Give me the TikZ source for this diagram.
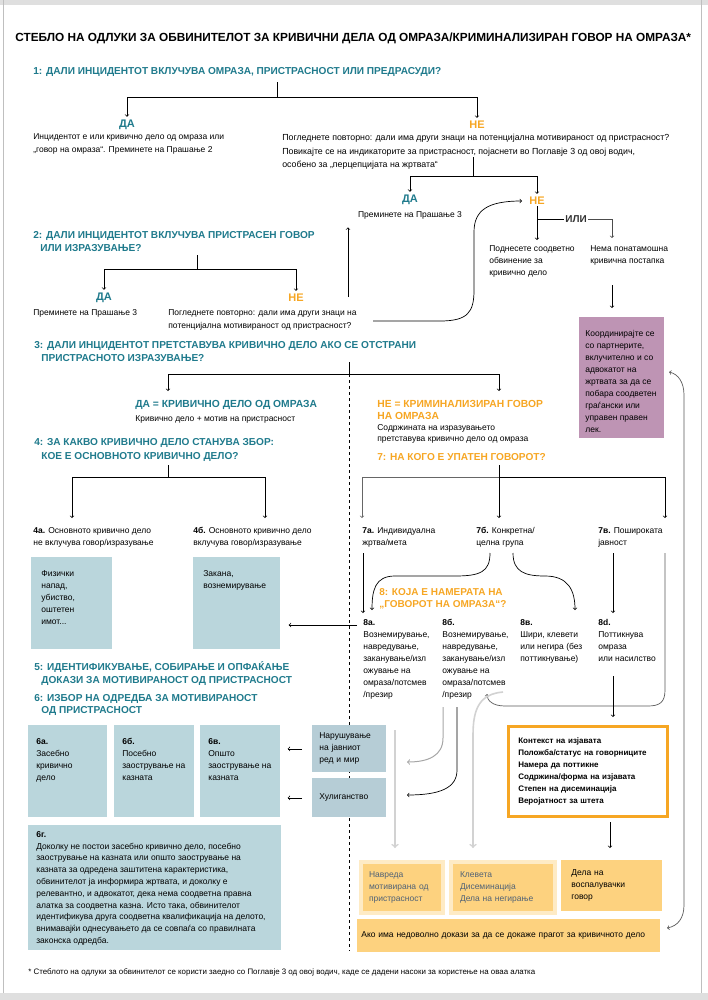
\documentclass[tikz,border=0pt]{standalone}
\usepackage{fontspec}
\setmainfont{Liberation Sans}
\definecolor{odteal}{RGB}{31,122,140}
\definecolor{odorange}{RGB}{246,166,35}
\definecolor{odpurple}{RGB}{190,148,180}
\definecolor{odblue}{RGB}{186,214,220}
\definecolor{odslate}{RGB}{182,205,214}
\definecolor{odpeach}{RGB}{253,210,127}
\definecolor{odgreytext}{RGB}{80,98,118}
\tikzstyle{title}=[anchor=west, inner sep=0pt, font=\bfseries\fontsize{11.8}{14}\selectfont]
\tikzstyle{question}=[anchor=north west, inner sep=0pt, align=left, text=odteal, font=\bfseries\fontsize{10.1}{13}\selectfont]
\tikzstyle{question-no}=[question, text=odorange]
\tikzstyle{answer-yes}=[inner sep=1pt, text=odteal, font=\bfseries\fontsize{11}{13}\selectfont]
\tikzstyle{answer-no}=[answer-yes, text=odorange]
\tikzstyle{txt}=[anchor=north west, inner sep=0pt, align=left, font=\fontsize{8.5}{12}\selectfont]
\tikzstyle{box}=[anchor=north west, inner sep=0pt]
\tikzstyle{box-blue}=[box, fill=odblue]
\tikzstyle{box-purple}=[box, fill=odpurple]
\tikzstyle{box-slate}=[anchor=north west, fill=odslate, inner xsep=7pt, inner ysep=0pt, align=left, font=\fontsize{8.5}{12}\selectfont]
\tikzstyle{box-peach}=[anchor=north west, fill=odpeach, inner ysep=0pt, align=left, font=\fontsize{8.5}{12}\selectfont]
\tikzstyle{box-glow}=[box-peach, draw=odpeach!45, line width=4pt, text=odgreytext]
\tikzstyle{box-frame}=[anchor=north west, draw=odorange, line width=2.5pt, fill=white, inner xsep=10pt, inner ysep=0pt, align=left, font=\bfseries\fontsize{8}{12}\selectfont]
\tikzstyle{link}=[->, shorten >=2pt]
\tikzstyle{link-faded}=[->, draw=gray!35, line width=1.6pt]

\begin{document}
\begin{tikzpicture}[x=1pt, y=-1pt, line width=0.7pt]
	\useasboundingbox (0,0) rectangle (708,1000);
	% frame
	\fill[gray!25] (0,0) rectangle (708,5);
	\fill[gray!25] (0,993) rectangle (708,1000);
	\draw[gray!50] (3,0) -- (3,993);
	\draw[gray!50] (701,0) -- (701,993);

	% nodes
	 \node [title] (title) at (15,38) {СТЕБЛО НА ОДЛУКИ ЗА ОБВИНИТЕЛОТ ЗА КРИВИЧНИ ДЕЛА ОД ОМРАЗА/КРИМИНАЛИЗИРАН ГОВОР НА ОМРАЗА*};

	 \node [question] (q1) at (33,67) {1: ДАЛИ ИНЦИДЕНТОТ ВКЛУЧУВА ОМРАЗА, ПРИСТРАСНОСТ ИЛИ ПРЕДРАСУДИ?};
	 \coordinate (q1split) at (277,97);
	 \node [answer-yes] (yes1) at (127,125) {ДА};
	 \node [answer-no] (no1) at (477,125) {НЕ};
	 \node [txt, font=\fontsize{8.5}{13}\selectfont] (yes1txt) at (33,133) {Инцидентот е или кривично дело од омраза или\\„говор на омраза“. Преминете на Прашање 2};
	 \node [txt, font=\fontsize{8.8}{13.5}\selectfont] (no1txt) at (282,134) {Погледнете повторно: дали има други знаци на потенцијална мотивираност од пристрасност?\\Повикајте се на индикаторите за пристрасност, појаснети во Поглавје 3 од овој водич,\\особено за „перцепцијата на жртвата“};

	 \coordinate (no1split) at (473,176);
	 \node [answer-yes] (yes2) at (410,200) {ДА};
	 \node [txt, anchor=north] (yes2txt) at (410,211) {Преминете на Прашање 3};
	 \node [answer-no] (no2) at (537,201) {НЕ};
	 \node [inner sep=1pt, text=black!80, font=\bfseries\fontsize{10}{12}\selectfont] (ili) at (576,219) {ИЛИ};
	 \node [txt] (filetxt) at (489,245) {Поднесете соодветно\\обвинение за\\кривично дело};
	 \node [txt] (nonetxt) at (590,245) {Нема понатамошна\\кривична постапка};
	 \coordinate (none-in) at (612,240);
	 \coordinate (none-out) at (612,285);
	 \node [box-purple, minimum width=85, minimum height=121] (coord) at (579,317) {};
	 \node [txt] (coordtxt) at ([shift={(6,13)}]coord.north west) {Координирајте се\\со партнерите,\\вклучително и со\\адвокатот на\\жртвата за да се\\побара соодветен\\граѓански или\\управен правен\\лек.};

	 \node [question] (q2) at (33,231) {2: ДАЛИ ИНЦИДЕНТОТ ВКЛУЧУВА ПРИСТРАСЕН ГОВОР\\\hspace*{7pt}ИЛИ ИЗРАЗУВАЊЕ?};
	 \coordinate (q2split) at (197,269);
	 \node [answer-yes] (yes3) at (104,298) {ДА};
	 \node [answer-no] (no3) at (296,298) {НЕ};
	 \node [txt] (yes3txt) at (33,309) {Преминете на Прашање 3};
	 \node [txt, font=\fontsize{8.5}{13}\selectfont] (no3txt) at (168,309) {Погледнете повторно: дали има други знаци на\\потенцијална мотивираност од пристрасност?};
	 \coordinate (up-start) at (348,297);
	 \coordinate (loop-start) at (373,321);

	 \node [question] (q3) at (34,341) {3: ДАЛИ ИНЦИДЕНТОТ ПРЕТСТАВУВА КРИВИЧНО ДЕЛО АКО СЕ ОТСТРАНИ\\\hspace*{7pt}ПРИСТРАСНОТО ИЗРАЗУВАЊЕ?};
	 \coordinate (q3split) at (349,374);
	 \coordinate (q3yes) at (168,393);
	 \coordinate (q3no) at (499,393);
	 \coordinate (dash-end) at (349,951);
	 % divider goes under the boxes
	 \draw [dashed, line width=0.6pt] (q3split) -- (dash-end);
	 \node [question, font=\bfseries\fontsize{10.3}{11.5}\selectfont] (yes4) at (135,400) {ДА = КРИВИЧНО ДЕЛО ОД ОМРАЗА};
	 \node [txt] (yes4txt) at (135,415) {Кривично дело + мотив на пристрасност};
	 \node [question-no, font=\bfseries\fontsize{10.3}{11.5}\selectfont] (no4) at (377,400) {НЕ = КРИМИНАЛИЗИРАН ГОВОР\\НА ОМРАЗА};
	 \node [txt, font=\fontsize{8.5}{11}\selectfont] (no4txt) at (377,424) {Содржината на изразувањето\\претставува кривично дело од омраза};

	 \node [question, font=\bfseries\fontsize{10.1}{14}\selectfont] (q4) at (34,438) {4: ЗА КАКВО КРИВИЧНО ДЕЛО СТАНУВА ЗБОР:\\\hspace*{7pt}КОЕ Е ОСНОВНОТО КРИВИЧНО ДЕЛО?};
	 \node [question-no] (q7) at (377,453) {7: НА КОГО Е УПАТЕН ГОВОРОТ?};
	 \coordinate (q4split) at (168,477);
	 \coordinate (q7split) at (499,477);
	 \coordinate (a4a) at (72,520);
	 \coordinate (a4b) at (265,520);
	 \coordinate (a7a) at (362,520);
	 \coordinate (a7b) at (499,520);
	 \coordinate (a7c) at (665,520);

	 \node [txt] (t4a) at (33,527) {\textbf{4а.} Основното кривично дело\\не вклучува говор/изразување};
	 \node [txt] (t4b) at (193,527) {\textbf{4б.} Основното кривично дело\\вклучува говор/изразување};
	 \node [txt] (t7a) at (362,527) {\textbf{7а.} Индивидуална\\жртва/мета};
	 \node [txt] (t7b) at (476,527) {\textbf{7б.} Конкретна/\\целна група};
	 \node [txt] (t7c) at (598,527) {\textbf{7в.} Пошироката\\јавност};

	 \node [box-blue, minimum width=81, minimum height=92] (b4a) at (31,557) {};
	 \node [txt] (b4atxt) at ([shift={(10,13)}]b4a.north west) {Физички\\напад,\\убиство,\\оштетен\\имот...};
	 \node [box-blue, minimum width=87, minimum height=92] (b4b) at (193,557) {};
	 \node [txt] (b4btxt) at ([shift={(10,13)}]b4b.north west) {Закана,\\вознемирување};

	 \coordinate (7a-out) at (363,553);
	 \coordinate (7b-left) at (490,553);
	 \coordinate (7b-right) at (513,553);
	 \coordinate (7c-out) at (613,553);
	 \coordinate (7c-side) at (665,553);
	 \node [question-no, font=\bfseries\fontsize{10}{12}\selectfont] (q8) at (379,588) {8: КОЈА Е НАМЕРАТА НА\\„ГОВОРОТ НА ОМРАЗА“?};
	 \node [txt] (t8a) at (363,619) {\textbf{8а.}\\Вознемирување,\\навредување,\\заканување/изл\\ожување на\\омраза/потсмев\\/презир};
	 \node [txt] (t8b) at (442,619) {\textbf{8б.}\\Вознемирување,\\навредување,\\заканување/изл\\ожување на\\омраза/потсмев\\/презир};
	 \node [txt] (t8c) at (520,619) {\textbf{8в.}\\Шири, клевети\\или негира (без\\поттикнување)};
	 \node [txt] (t8d) at (598,619) {\textbf{8d.}\\Поттикнува\\омраза\\или насилство};
	 \coordinate (8a-left) at (357,625);
	 \coordinate (8b-in) at (487,692);
	 \coordinate (8d-out) at (613,676);

	 \node [question] (q5) at (34,661) {5: ИДЕНТИФИКУВАЊЕ, СОБИРАЊЕ И ОПФАЌАЊЕ\\\hspace*{7pt}ДОКАЗИ ЗА МОТИВИРАНОСТ ОД ПРИСТРАСНОСТ};
	 \node [question, font=\bfseries\fontsize{10.1}{12}\selectfont] (q6) at (34,694) {6: ИЗБОР НА ОДРЕДБА ЗА МОТИВИРАНОСТ\\\hspace*{7pt}ОД ПРИСТРАСНОСТ};

	 \node [box-blue, minimum width=79, minimum height=92] (b6a) at (28,725) {};
	 \node [txt] (b6atxt) at ([shift={(8,13)}]b6a.north west) {\textbf{6а.}\\Засебно\\кривично\\дело};
	 \node [box-blue, minimum width=80, minimum height=92] (b6b) at (114,725) {};
	 \node [txt] (b6btxt) at ([shift={(8,13)}]b6b.north west) {\textbf{6б.}\\Посебно\\заострување на\\казната};
	 \node [box-blue, minimum width=80, minimum height=92] (b6c) at (200,725) {};
	 \node [txt] (b6ctxt) at ([shift={(8,13)}]b6c.north west) {\textbf{6в.}\\Општо\\заострување на\\казната};
	 \node [box-blue, minimum width=253, minimum height=125] (b6d) at (28,825) {};
	 \node [txt, font=\fontsize{8.5}{11.8}\selectfont] (b6dtxt) at ([shift={(8,6)}]b6d.north west) {\textbf{6г.}\\Доколку не постои засебно кривично дело, посебно\\заострување на казната или општо заострување на\\казната за одредена заштитена карактеристика,\\обвинителот ја информира жртвата, и доколку е\\релевантно, и адвокатот, дека нема соодветна правна\\алатка за соодветна казна. Исто така, обвинителот\\идентификува друга соодветна квалификација на делото,\\внимавајќи однесувањето да се совпаѓа со правилната\\законска одредба.};

	 \node [box-slate, text width=60, minimum height=47] (red) at (312,725) {Нарушување\\на јавниот\\ред и мир};
	 \node [box-slate, text width=60, minimum height=39] (hul) at (312,778) {Хулиганство};
	 \coordinate (8b-grey) at (443,707);
	 \coordinate (8b-dark) at (457,707);
	 \coordinate (red-in) at (405,762);
	 \coordinate (hul-in) at (405,795);
	 \coordinate (fade1) at (395,730);
	 \coordinate (fade2) at (503,692);

	 \node [box-frame, text width=139, minimum height=90] (crit) at (507,725) {Контекст на изјавата\\Положба/статус на говорниците\\Намера да поттикне\\Содржина/форма на изјавата\\Степен на дисеминација\\Веројатност за штета};
	 \coordinate (crit-out) at (610,815);

	 \node [box-glow, inner xsep=8pt, text width=66, minimum height=51] (ins) at (359,860) {Навреда\\мотивирана од\\пристрасност};
	 \node [box-glow, inner xsep=9pt, text width=86, minimum height=51] (def) at (449,860) {Клевета\\Дисеминација\\Дела на негирање};
	 \node [box-peach, inner xsep=10pt, text width=81, minimum height=51] (inc) at (561,860) {Дела на\\воспалувачки\\говор};
	 \node [box-peach, inner xsep=4pt, text width=295, minimum height=33] (thr) at (357,919) {Ако има недоволно докази за да се докаже прагот за кривичното дело};
	 \coordinate (coord-in) at (669,372);
	 \coordinate (thr-in) at (667,928);

	 \node [anchor=west, inner sep=0pt, font=\fontsize{7.9}{9}\selectfont] (note) at (28,972) {* Стеблото на одлуки за обвинителот се користи заедно со Поглавје 3 од овој водич, каде се дадени насоки за користење на оваа алатка};

	 % arrows
	 \draw (q1split) -- ++(0,-15);
	 \draw [link] (q1split) -| (yes1.north);
	 \draw [link] (q1split) -| (no1.north);
	 \draw (no1split) -- ++(0,-19);
	 \draw [link] (no1split) -| (yes2.north);
	 \draw [link] (no1split) -| (no2.north);
	 \draw [link, shorten >=5pt] (no2.south) -- (no2.south |- filetxt.north);
	 \draw (no2.south |- ili) -- (ili.west);
	 \draw [link, draw=black!70] (ili.east) -| (none-in);
	 \draw [link, shorten >=9pt] (none-out) -- (none-out |- coord.north);

	 \draw (q2split) -- ++(0,-14);
	 \draw [link] (q2split) -| (yes3.north);
	 \draw [link] (q2split) -| (no3.north);
	 \draw [link, shorten >=8pt] (up-start) -- (up-start |- yes2txt.south);
	 \draw [link, shorten >=6pt] (loop-start) -- (440,321) .. controls (468,321) and (474,312) .. (474,290) -- (474,232) .. controls (474,210) and (488,201) .. (no2.west);

	 \draw (q3split) -- ++(0,-12);
	 \draw [link] (q3split) -| (q3yes);
	 \draw [link] (q3split) -| (q3no);

	 \draw (q4split) -- ++(0,-12);
	 \draw [link] (q4split) -| (a4a);
	 \draw [link] (q4split) -| (a4b);
	 \draw (q7split) -- ++(0,-12);
	 \draw [link, draw=black!60] (q7split) -| (a7a);
	 \draw [link] (q7split) -| (a7b);
	 \draw [link] (q7split) -| (a7c);

	 \draw [link, shorten >=6pt] (7a-out) -- (7a-out |- t8a.north);
	 \draw [link] (7b-left) .. controls (490,572) and (480,576) .. (455,576) -- (395,576) .. controls (375,576) and (372,590) .. (372,612);
	 \draw [link] (7b-right) .. controls (513,572) and (525,576) .. (545,576) .. controls (568,576) and (575,590) .. (575,612);
	 \draw [link, shorten >=6pt] (7c-out) -- (7c-out |- t8d.north);
	 \draw [link, draw=black!65] (7c-side) -- (665,690) .. controls (665,702) and (660,706) .. (648,706) -- (505,706) .. controls (492,706) and (487,700) .. (8b-in);

	 \draw [link, shorten >=8pt] (8a-left) -- (8a-left -| b4b.east);
	 \draw [link, shorten >=8pt] (8d-out) -- (8d-out |- crit.north);
	 \draw [link, draw=gray!70, line width=1pt] (8b-grey) -- (443,738) .. controls (443,756) and (428,762) .. (red-in);
	 \draw [link] (8b-dark) -- (457,770) .. controls (457,788) and (440,795) .. (hul-in);
	 \draw [link, shorten <=10pt, shorten >=7pt] (red.west) -- (red.west -| b6c.east);
	 \draw [link, shorten <=10pt, shorten >=7pt] (hul.west) -- (hul.west -| b6c.east);

	 \draw [link-faded, shorten >=12pt] (fade1) -- (fade1 |- ins.north);
	 \draw [link-faded] (fade2) .. controls (480,694) and (473,708) .. (473,735) -- (473,848);
	 \draw [link, shorten <=7pt, shorten >=12pt] (crit-out) -- (crit-out |- inc.north);
	 \draw [<->, draw=black!65] (coord-in) .. controls (678,374) and (684,382) .. (684,395) -- (684,905) .. controls (684,918) and (678,926) .. (thr-in);
\end{tikzpicture}
\end{document}
